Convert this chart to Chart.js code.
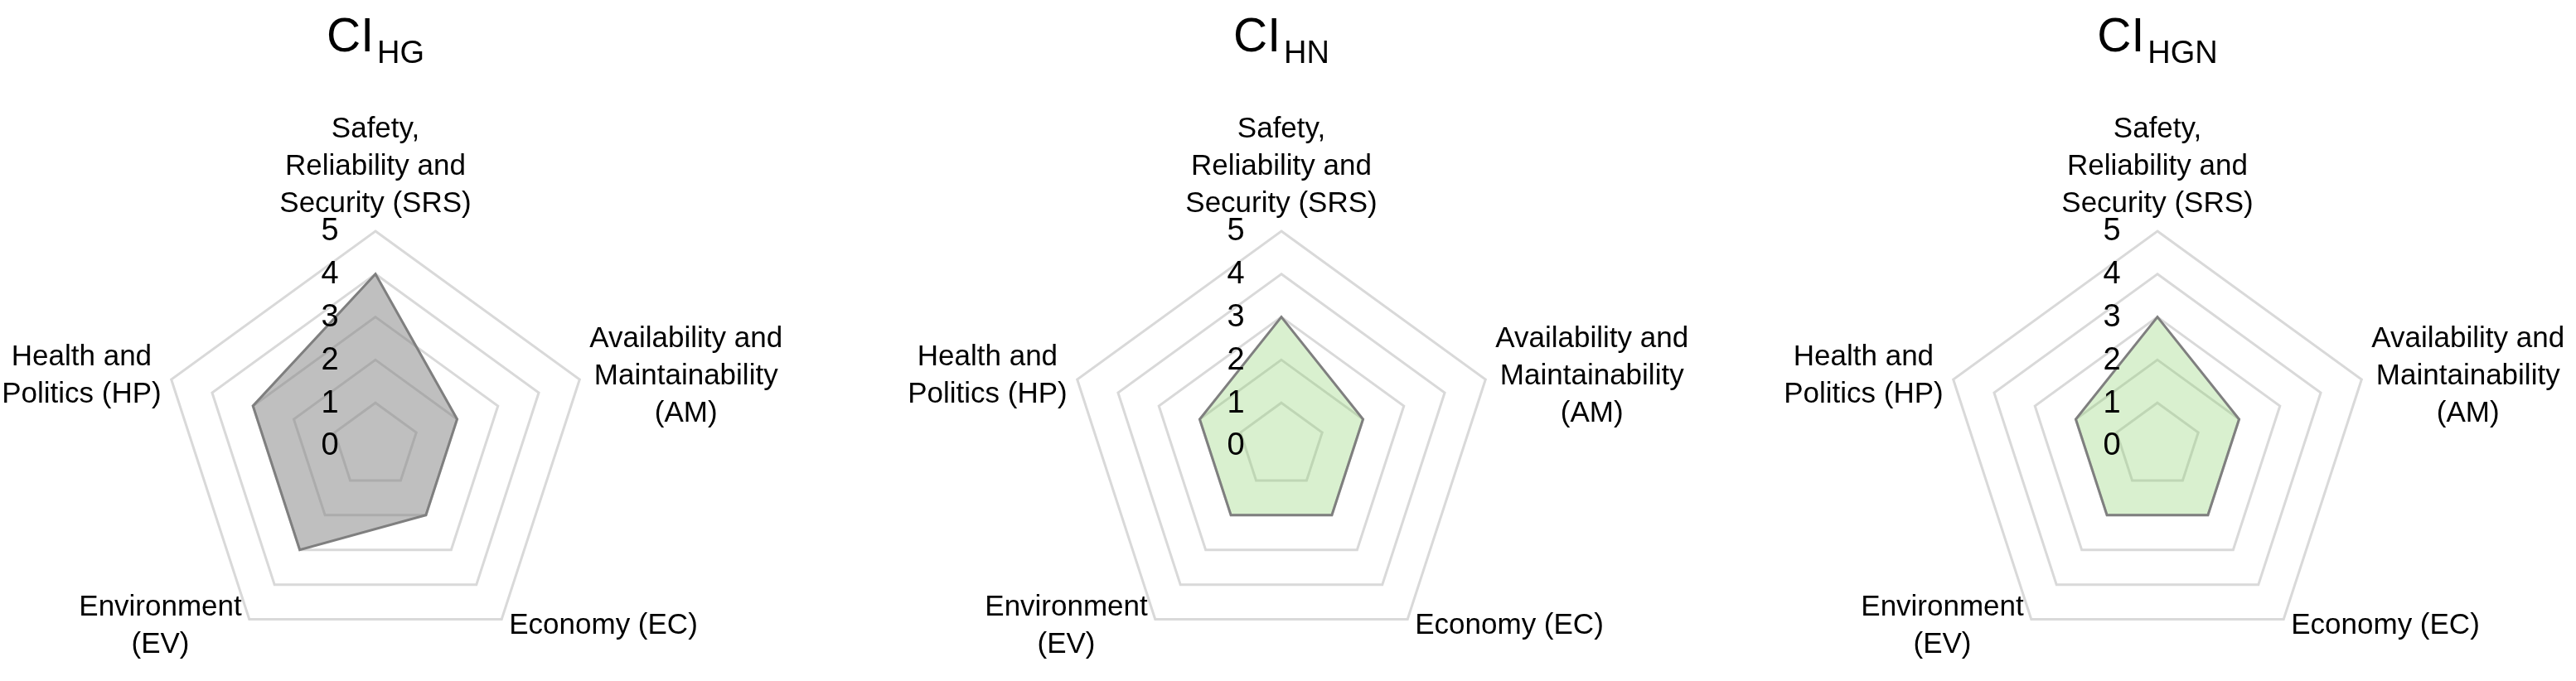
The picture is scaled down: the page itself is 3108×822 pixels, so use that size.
<!DOCTYPE html>
<html>
<head>
<meta charset="utf-8">
<script src="https://cdn.jsdelivr.net/npm/chart.js@4.4.1/dist/chart.umd.min.js"></script>
<style>
  html, body { margin: 0; padding: 0; background: #fff; }
  #wrap { position: relative; width: 3108px; height: 822px; overflow: hidden; }
  #wrap canvas { position: absolute; left: 0; top: 0; }
</style>
</head>
<body>
<div id="wrap">
  <canvas id="chartHG" width="3108" height="822"></canvas>
  <canvas id="chartHN" width="3108" height="822"></canvas>
  <canvas id="chartHGN" width="3108" height="822"></canvas>
</div>
<script>
// axis categories (one line per array item)
const categories = [
    ['Safety,', 'Reliability and', 'Security (SRS)'],
    ['Availability and', 'Maintainability', '(AM)'],
    ['Economy (EC)'],
    ['Environment', '(EV)'],
    ['Health and', 'Politics (HP)']
];
const tickLabels = [0, 1, 2, 3, 4, 5];

// scores per index
const valuesHG = [4, 2, 2, 3, 3];
const valuesHN = [3, 2, 2, 2, 2];
const valuesHGN = [3, 2, 2, 2, 2];

const W = 3108, H = 822;
const R = 259, CY = 538;
const labelFont = '35px "Liberation Sans", Arial, sans-serif';
const lineH = 45;

// radial labels, tick numbers and subscript title, drawn from the scale itself
const decorPlugin = {
    id: 'decor',
    afterDatasetsDraw(chart, args, opts) {
        const ctx = chart.ctx;
        const scale = chart.scales.r;
        const cx = scale.xCenter, cy = scale.yCenter;
        ctx.save();
        ctx.fillStyle = '#000';

        // tick numbers, left of the vertical axis
        ctx.font = '38px "Liberation Sans", Arial, sans-serif';
        ctx.textAlign = 'center';
        ctx.textBaseline = 'middle';
        tickLabels.forEach((t) => {
            const d = scale.getDistanceFromCenterForValue(t);
            ctx.fillText(String(t), cx - 55, cy - d + 1);
        });

        // category labels
        ctx.font = labelFont;
        categories.forEach((lines, i) => {
            const p = scale.getPointPosition(i, scale.drawingArea);
            const widths = lines.map((l) => ctx.measureText(l).width);
            const bw = Math.max(...widths);
            let midX, firstY;
            if (i === 0) {
                midX = p.x;
                firstY = p.y - 35 - (lines.length - 1) * lineH;
            } else {
                const right = p.x > cx;
                const gap = (i === 1 || i === 4) ? 12 : 9;
                midX = right ? p.x + gap + bw / 2 : p.x - gap - bw / 2;
                const dy = (i === 1 || i === 4) ? -6 : 6;
                firstY = p.y + dy - (lines.length - 1) * lineH / 2;
            }
            lines.forEach((l, k) => {
                ctx.fillText(l, midX, firstY + k * lineH + 2);
            });
        });

        // title with subscript
        ctx.textAlign = 'left';
        ctx.textBaseline = 'alphabetic';
        ctx.font = '57px "Liberation Sans", Arial, sans-serif';
        const mainW = ctx.measureText('CI').width;
        ctx.font = '38px "Liberation Sans", Arial, sans-serif';
        const subW = ctx.measureText(opts.sub).width;
        const x0 = cx - (mainW + 4 + subW) / 2;
        ctx.font = '57px "Liberation Sans", Arial, sans-serif';
        ctx.fillText('CI', x0, 62);
        ctx.font = '38px "Liberation Sans", Arial, sans-serif';
        ctx.fillText(opts.sub, x0 + mainW + 4, 76);
        ctx.restore();
    }
};

function makeRadar(id, values, centerX, fill, sub) {
    return new Chart(document.getElementById(id), {
        type: 'radar',
        data: {
            labels: categories,
            datasets: [{
                data: values,
                backgroundColor: fill,
                borderColor: '#7f7f7f',
                borderWidth: 3,
                pointRadius: 0,
                pointHoverRadius: 0,
                fill: true,
                tension: 0
            }]
        },
        options: {
            responsive: false,
            animation: false,
            events: [],
            layout: {
                padding: {
                    left: centerX - R,
                    right: W - centerX - R,
                    top: CY - R,
                    bottom: H - CY - R
                }
            },
            plugins: {
                legend: { display: false },
                tooltip: { enabled: false },
                decor: { sub: sub }
            },
            scales: {
                r: {
                    min: 0,
                    max: 5,
                    ticks: { display: false, stepSize: 1 },
                    grid: { color: '#d9d9d9', lineWidth: 3 },
                    angleLines: { display: false },
                    pointLabels: { display: false }
                }
            }
        },
        plugins: [decorPlugin]
    });
}

makeRadar('chartHG', valuesHG, 453, 'rgba(128,128,128,0.5)', 'HG');
makeRadar('chartHN', valuesHN, 1546, 'rgba(140,210,110,0.33)', 'HN');
makeRadar('chartHGN', valuesHGN, 2603, 'rgba(140,210,110,0.33)', 'HGN');
</script>
</body>
</html>
